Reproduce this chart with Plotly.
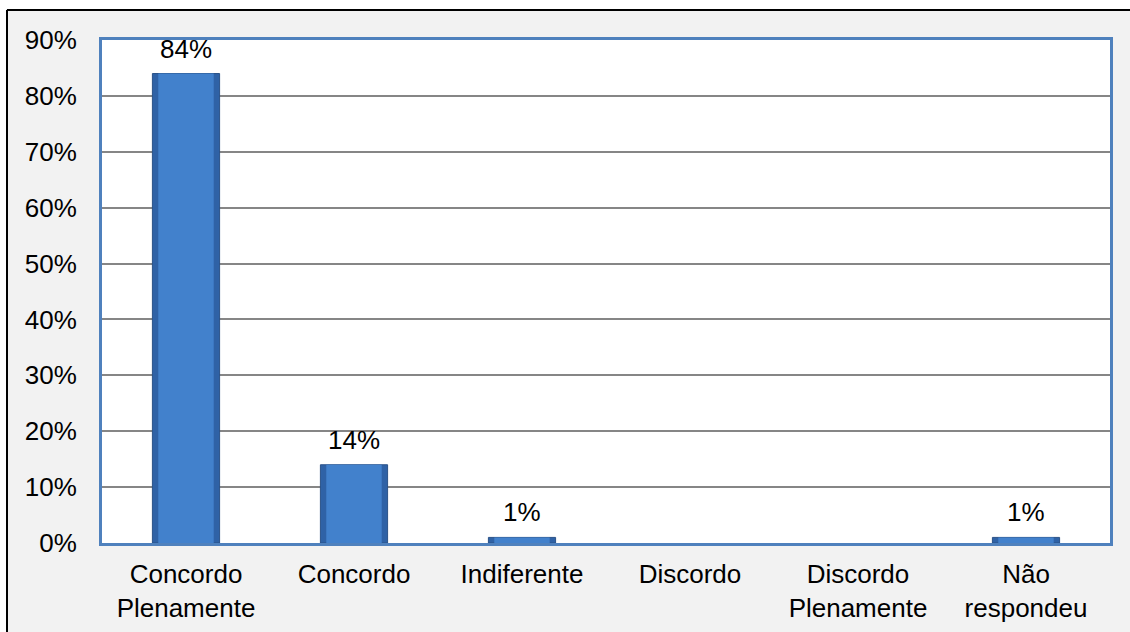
import plotly.graph_objects as go

# Survey answers and their share of respondents
categories = ["Concordo<br>Plenamente", "Concordo", "Indiferente", "Discordo",
              "Discordo<br>Plenamente", "Não<br>respondeu"]
shares = [0.84, 0.14, 0.01, 0.0, 0.0, 0.01]
y_ticks = [0.0, 0.1, 0.2, 0.3, 0.4, 0.5, 0.6, 0.7, 0.8, 0.9]

W, H = 1130, 632
ML, MR, MT, MB = 102, 20, 40, 89
PW, PH = W - ML - MR, H - MT - MB

FONT = "Liberation Sans, Arial, sans-serif"
FS = 26
FRAME = "#4F81BD"

# zero-height answers get no outline so nothing is drawn for them
edge = [1 if v > 0 else 0 for v in shares]

fig = go.Figure()

# outer darker body of each bar, then a lighter face to give a bevelled look
fig.add_trace(go.Bar(
    x=categories, y=shares, width=0.4,
    marker=dict(color="#2F62A6", line=dict(color="#2A5288", width=edge)),
    hoverinfo="skip", showlegend=False,
))
fig.add_trace(go.Bar(
    x=categories, y=shares, width=0.33,
    marker=dict(color="#4281CC", line=dict(width=0)),
    hoverinfo="skip", showlegend=False,
))

# value labels above bars (non-zero answers only)
for c, v in zip(categories, shares):
    if v > 0:
        fig.add_annotation(
            x=c, y=v, text=f"{v:.0%}", showarrow=False,
            yanchor="bottom", yshift=8,
            font=dict(family=FONT, size=FS, color="black"),
        )

def px_x(p):
    return (p - ML) / PW

def px_y(p):
    return (H - MB - p) / PH

# white strip outside the chart frame plus the thin black frame itself
fig.add_shape(type="rect", xref="paper", yref="paper",
              x0=px_x(-5), x1=px_x(6), y0=px_y(H + 5), y1=px_y(-5),
              fillcolor="white", line=dict(width=0), layer="above")
fig.add_shape(type="rect", xref="paper", yref="paper",
              x0=px_x(-5), x1=px_x(W + 5), y0=px_y(9), y1=px_y(-5),
              fillcolor="white", line=dict(width=0), layer="above")
fig.add_shape(type="line", xref="paper", yref="paper",
              x0=px_x(7), x1=px_x(7), y0=px_y(10), y1=px_y(H + 5),
              line=dict(color="black", width=2), layer="above")
fig.add_shape(type="line", xref="paper", yref="paper",
              x0=px_x(7), x1=px_x(W + 5), y0=px_y(10), y1=px_y(10),
              line=dict(color="black", width=2), layer="above")

fig.update_layout(
    width=W, height=H,
    margin=dict(l=ML, r=MR, t=MT, b=MB, pad=0),
    paper_bgcolor="#F2F2F2", plot_bgcolor="white",
    barmode="overlay",
    font=dict(family=FONT, size=FS, color="black"),
    showlegend=False,
    xaxis=dict(
        showline=True, linecolor=FRAME, linewidth=3, mirror=True,
        showgrid=False, zeroline=False, ticks="", automargin=False,
        tickfont=dict(family=FONT, size=FS, color="black"),
        ticklabelstandoff=6,
    ),
    yaxis=dict(
        range=[0, 0.9], tickvals=y_ticks, tickformat=".0%",
        showline=True, linecolor=FRAME, linewidth=3, mirror=True,
        showgrid=True, gridcolor="#868686", gridwidth=1.5,
        zeroline=False, ticks="", automargin=False,
        tickfont=dict(family=FONT, size=FS, color="black"),
        ticklabelstandoff=17,
    ),
)

fig.write_html("out.html")
